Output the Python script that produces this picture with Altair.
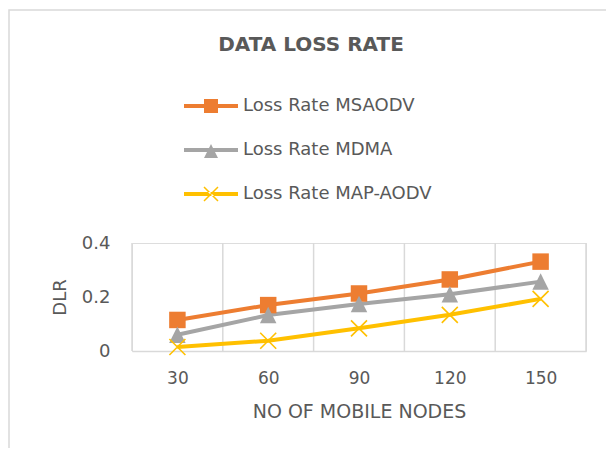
import altair as alt
import pandas as pd

# ---- data ----
nodes = [30, 60, 90, 120, 150]
series_names = ["Loss Rate MSAODV", "Loss Rate MDMA", "Loss Rate MAP-AODV"]
msaodv = [0.115, 0.170, 0.213, 0.265, 0.331]
mdma = [0.060, 0.133, 0.174, 0.210, 0.257]
map_aodv = [0.015, 0.038, 0.084, 0.134, 0.193]
y_ticks = [0, 0.2, 0.4]
colors = ["#ED7D31", "#A5A5A5", "#FFC000"]

rows = []
for name, vals in zip(series_names, [msaodv, mdma, map_aodv]):
    for n, v in zip(nodes, vals):
        rows.append({"nodes": n, "series": name, "value": v})
df = pd.DataFrame(rows)

# category band boundaries (gridlines sit between categories)
step = nodes[1] - nodes[0]
bounds = [nodes[0] - step / 2 + i * step for i in range(len(nodes) + 1)]
grid_df = pd.DataFrame({"b": bounds})

W, H = 454, 108
TXT = "#595959"
FONT = "DejaVu Sans"

xscale = alt.Scale(domain=[bounds[0], bounds[-1]], nice=False, zero=False)
yscale = alt.Scale(domain=[0, 0.4], nice=False)
cscale = alt.Scale(domain=series_names, range=colors)

x_enc = alt.X("nodes:Q", scale=xscale, title="NO OF MOBILE NODES",
              axis=alt.Axis(values=nodes, grid=False, ticks=False, format="d",
                            domainColor="#D9D9D9", domainWidth=1.5,
                            labelColor=TXT, labelFont=FONT, labelFontSize=17,
                            labelPadding=19, titleColor=TXT, titleFont=FONT,
                            titleFontSize=19, titleFontWeight="normal",
                            titlePadding=16))
y_enc = alt.Y("value:Q", scale=yscale, title="DLR",
              axis=alt.Axis(values=y_ticks, grid=False, ticks=False, domain=False,
                            format="~g", labelColor=TXT, labelFont=FONT,
                            labelFontSize=18, labelPadding=22, titleColor=TXT,
                            titleFont=FONT, titleFontSize=18,
                            titleFontWeight="normal", titlePadding=12))

base = alt.Chart(df)

frame = alt.Chart(grid_df).mark_rect(fillOpacity=0, stroke="#D9D9D9", strokeWidth=1.5).encode(
    x=alt.value(-123), x2=alt.value(640), y=alt.value(-233), y2=alt.value(260)
).transform_filter("datum.b == %s" % bounds[0])

grid = alt.Chart(grid_df).mark_rule(color="#D9D9D9", strokeWidth=1.5).encode(
    x=alt.X("b:Q", scale=xscale)
)

lines = base.mark_line(strokeWidth=4).encode(
    x=x_enc, y=y_enc,
    color=alt.Color("series:N", scale=cscale, legend=None),
)

sq = base.transform_filter(alt.datum.series == series_names[0]).mark_point(
    shape="square", filled=True, size=272, opacity=1
).encode(x=alt.X("nodes:Q", scale=xscale), y=alt.Y("value:Q", scale=yscale),
         color=alt.Color("series:N", scale=cscale, legend=None))

tri = base.transform_filter(alt.datum.series == series_names[1]).mark_point(
    shape="M0,-1L1,1L-1,1Z", filled=True, size=272, opacity=1
).encode(x=alt.X("nodes:Q", scale=xscale), y=alt.Y("value:Q", scale=yscale),
         color=alt.Color("series:N", scale=cscale, legend=None))

xm = base.transform_filter(alt.datum.series == series_names[2]).mark_point(
    shape="M-1,-1L1,1M-1,1L1,-1", filled=False, size=256, strokeWidth=1.6, opacity=1
).encode(x=alt.X("nodes:Q", scale=xscale), y=alt.Y("value:Q", scale=yscale),
         color=alt.Color("series:N", scale=cscale, legend=None))

# legend symbols: line segment with marker in the middle (unit = 8 px)
line_p = "M-3.375,-0.25L3.375,-0.25L3.375,0.25L-3.375,0.25Z"
leg_sq = line_p + "M-0.875,-0.875L0.875,-0.875L0.875,0.875L-0.875,0.875Z"
leg_tri = line_p + "M0,-0.75L0.875,1L-0.875,1Z"
leg_x = (line_p + "M-0.941,-0.809L0.809,0.941L0.941,0.809L-0.809,-0.941Z"
         "M0.941,-0.809L-0.809,0.941L-0.941,0.809L0.809,-0.941Z")

leg = alt.Legend(title=None, orient="none", legendX=70, legendY=-146,
                 symbolSize=256, symbolOpacity=1, symbolStrokeWidth=0,
                 labelFont=FONT, labelFontSize=18, labelColor=TXT, labelLimit=0,
                 labelOffset=23, rowPadding=26, padding=0)

legend_layer = base.mark_point(filled=True, size=0).encode(
    x=alt.X("nodes:Q", scale=xscale), y=alt.Y("value:Q", scale=yscale),
    fill=alt.Fill("series:N", scale=cscale, legend=leg),
    shape=alt.Shape("series:N", scale=alt.Scale(domain=series_names,
                                                 range=[leg_sq, leg_tri, leg_x]),
                    legend=leg),
)

chart = alt.layer(legend_layer, frame, grid, lines, sq, tri, xm).properties(
    width=W, height=H,
    title=alt.TitleParams("DATA LOSS RATE", anchor="middle", frame="group", dx=-48,
                          offset=-46, font=FONT, fontSize=20, fontWeight="bold",
                          color=TXT),
    autosize=alt.AutoSizeParams(type="none"),
    padding={"left": 124, "top": 235, "right": 20, "bottom": 97},
).configure_view(stroke=None).configure(background="white")

chart.save("out.html", embed_options={"renderer": "svg", "actions": False})
